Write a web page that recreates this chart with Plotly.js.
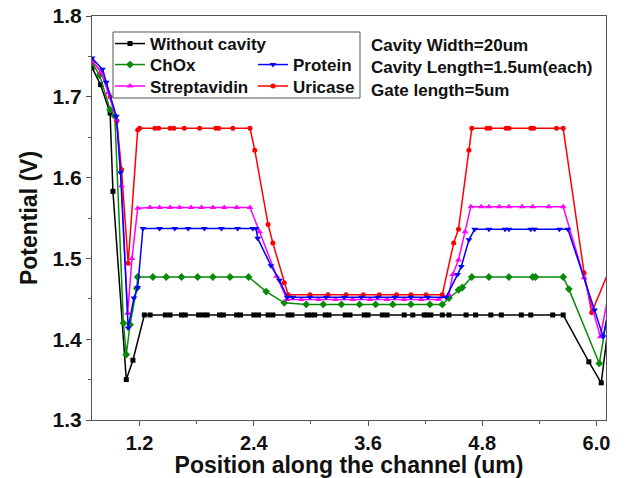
<!DOCTYPE html>
<html><head><meta charset="utf-8">
<script src="https://cdn.plot.ly/plotly-3.0.1.min.js"></script>
<style>html,body{margin:0;padding:0;background:#fff}#chart{width:640px;height:478px}</style>
</head><body><div id="chart"></div>
<script>
// ---- data ----
var seriesNames = ['Without cavity', 'ChOx', 'Protein', 'Streptavidin', 'Uricase'];

var noCavityX = [0.70, 0.79, 0.89, 0.92, 1.06, 1.13, 1.25, 1.31, 1.47, 1.52, 1.64, 1.68, 1.82, 1.87, 1.91, 2.04, 2.08, 2.22, 2.26, 2.40, 2.45, 2.55, 2.60, 2.76, 2.80, 2.96, 3.00, 3.04, 3.15, 3.19, 3.36, 3.41, 3.56, 3.60, 3.75, 3.80, 3.98, 4.07, 4.19, 4.22, 4.26, 4.38, 4.45, 4.63, 4.73, 4.89, 5.00, 5.21, 5.31, 5.54, 5.65, 5.92, 6.05, 6.15];
var noCavityY = [1.736, 1.715, 1.680, 1.583, 1.350, 1.374, 1.430, 1.430, 1.430, 1.430, 1.430, 1.430, 1.430, 1.430, 1.430, 1.430, 1.430, 1.430, 1.430, 1.430, 1.430, 1.430, 1.430, 1.430, 1.430, 1.430, 1.430, 1.430, 1.430, 1.430, 1.430, 1.430, 1.430, 1.430, 1.430, 1.430, 1.430, 1.430, 1.430, 1.430, 1.430, 1.430, 1.430, 1.430, 1.430, 1.430, 1.430, 1.430, 1.430, 1.430, 1.430, 1.372, 1.346, 1.440];

var choxX = [0.70, 0.78, 0.89, 0.94, 1.03, 1.06, 1.10, 1.17, 1.18, 1.34, 1.48, 1.64, 1.81, 1.97, 2.15, 2.345, 2.53, 2.72, 2.95, 3.13, 3.32, 3.51, 3.68, 3.86, 4.05, 4.25, 4.38, 4.45, 4.55, 4.59, 4.69, 4.87, 5.08, 5.33, 5.36, 5.65, 5.71, 6.03, 6.15];
var choxY = [1.742, 1.727, 1.684, 1.676, 1.420, 1.381, 1.418, 1.463, 1.477, 1.477, 1.477, 1.477, 1.477, 1.477, 1.477, 1.477, 1.459, 1.445, 1.443, 1.443, 1.443, 1.443, 1.443, 1.443, 1.443, 1.443, 1.443, 1.451, 1.461, 1.464, 1.477, 1.477, 1.477, 1.477, 1.477, 1.477, 1.462, 1.370, 1.455];

var proteinX = [0.70, 0.81, 0.85, 0.955, 1.00, 1.08, 1.14, 1.18, 1.235, 1.41, 1.57, 1.71, 1.88, 2.06, 2.23, 2.39, 2.425, 2.44, 2.58, 2.67, 2.75, 2.81, 2.99, 3.16, 3.35, 3.53, 3.70, 3.88, 4.05, 4.23, 4.42, 4.54, 4.58, 4.66, 4.72, 4.87, 5.04, 5.08, 5.31, 5.35, 5.61, 5.70, 5.98, 6.07, 6.15];
var proteinY = [1.748, 1.734, 1.718, 1.676, 1.606, 1.414, 1.451, 1.464, 1.537, 1.537, 1.537, 1.537, 1.537, 1.537, 1.537, 1.537, 1.537, 1.525, 1.491, 1.473, 1.452, 1.452, 1.452, 1.452, 1.452, 1.452, 1.452, 1.452, 1.452, 1.452, 1.452, 1.480, 1.490, 1.523, 1.536, 1.536, 1.536, 1.536, 1.536, 1.536, 1.536, 1.536, 1.436, 1.403, 1.450];

var streptX = [0.70, 0.80, 0.87, 0.96, 1.01, 1.075, 1.12, 1.18, 1.31, 1.41, 1.52, 1.62, 1.74, 1.85, 1.97, 2.09, 2.22, 2.36, 2.46, 2.64, 2.75, 2.90, 3.08, 3.26, 3.44, 3.62, 3.80, 3.98, 4.16, 4.34, 4.45, 4.49, 4.55, 4.62, 4.68, 4.79, 4.87, 4.98, 5.08, 5.22, 5.33, 5.50, 5.65, 5.87, 6.04, 6.15];
var streptY = [1.745, 1.730, 1.705, 1.672, 1.590, 1.432, 1.500, 1.562, 1.563, 1.563, 1.563, 1.563, 1.563, 1.563, 1.563, 1.563, 1.563, 1.563, 1.533, 1.478, 1.449, 1.449, 1.449, 1.449, 1.449, 1.449, 1.449, 1.449, 1.449, 1.449, 1.455, 1.480, 1.498, 1.533, 1.564, 1.564, 1.564, 1.564, 1.564, 1.564, 1.564, 1.564, 1.564, 1.476, 1.403, 1.470];

var uricaseX = [0.70, 0.80, 0.89, 0.96, 1.01, 1.08, 1.18, 1.20, 1.36, 1.40, 1.52, 1.56, 1.67, 1.83, 2.00, 2.03, 2.18, 2.36, 2.41, 2.55, 2.60, 2.72, 2.76, 2.99, 3.18, 3.37, 3.55, 3.72, 3.90, 4.05, 4.21, 4.38, 4.50, 4.55, 4.66, 4.69, 4.85, 4.88, 5.05, 5.08, 5.31, 5.34, 5.58, 5.65, 5.87, 5.95, 6.15];
var uricaseY = [1.745, 1.730, 1.700, 1.670, 1.610, 1.494, 1.659, 1.661, 1.661, 1.661, 1.661, 1.661, 1.661, 1.661, 1.661, 1.661, 1.661, 1.661, 1.634, 1.542, 1.519, 1.470, 1.455, 1.455, 1.455, 1.455, 1.455, 1.455, 1.455, 1.455, 1.455, 1.455, 1.519, 1.536, 1.634, 1.661, 1.661, 1.661, 1.661, 1.661, 1.661, 1.661, 1.661, 1.661, 1.482, 1.433, 1.490];

var infoLines = ['Cavity Width=20um', 'Cavity Length=1.5um(each)', 'Gate length=5um'];
var xTitle = 'Position along the channel (um)';
var yTitle = 'Potential (V)';

// ---- styling ----
var FONT = 'Liberation Sans, Arial, sans-serif';
var AX = '#555555';

function tr(x, y, name, color, symbol, size, legendId) {
  return {
    x: x, y: y, name: name, type: 'scatter', mode: 'lines+markers',
    line: {color: color, width: 1.5},
    marker: {color: color, symbol: symbol, size: size},
    legend: legendId, cliponaxis: true
  };
}

var data = [
  tr(noCavityX, noCavityY, seriesNames[0], '#000000', 'square', 5, 'legend'),
  tr(choxX, choxY, seriesNames[1], '#0a8a0a', 'diamond', 6, 'legend2'),
  tr(uricaseX, uricaseY, seriesNames[4], '#ff0000', 'circle', 5, 'legend5'),
  tr(streptX, streptY, seriesNames[3], '#ff00ff', 'triangle-up', 6, 'legend4'),
  tr(proteinX, proteinY, seriesNames[2], '#0000ff', 'triangle-down', 6, 'legend3')
];

function leg(x, y) {
  return {x: x, y: y, xref: 'paper', yref: 'paper', xanchor: 'left', yanchor: 'middle',
    bgcolor: 'rgba(0,0,0,0)', borderwidth: 0, itemwidth: 30,
    font: {family: FONT, size: 17, color: '#111', weight: 'bold'}};
}

var W = 514, H = 404;
function px(p) { return (p - 92) / W; }
function py(p) { return (420 - p) / H; }

var annotations = infoLines.map(function (t, i) {
  return {text: t, xref: 'paper', yref: 'paper', x: px(369), y: py([46, 67.5, 90][i]),
    xanchor: 'left', yanchor: 'middle', showarrow: false,
    font: {family: FONT, size: 17, color: '#111', weight: 'bold'}};
});

var layout = {
  width: 640, height: 478,
  margin: {l: 92, r: 34, t: 16, b: 58, pad: 0},
  paper_bgcolor: '#fff', plot_bgcolor: '#fff',
  showlegend: true,
  legend: leg(px(110), py(44)),
  legend2: leg(px(110), py(65)),
  legend3: leg(px(253), py(65)),
  legend4: leg(px(110), py(86.5)),
  legend5: leg(px(253), py(86.5)),
  xaxis: {
    range: [0.7, 6.1], tick0: 0, dtick: 1.2, tickformat: '.1f',
    ticks: 'outside', ticklen: 5, tickwidth: 1, tickcolor: AX,
    showline: true, linecolor: AX, linewidth: 1, mirror: true,
    showgrid: false, zeroline: false,
    minor: {tick0: 0, dtick: 0.6, ticks: 'outside', ticklen: 3, tickcolor: AX, showgrid: false},
    tickfont: {family: FONT, size: 20, color: '#111', weight: 'bold'},
    title: {text: xTitle, standoff: 2, font: {family: FONT, size: 23, color: '#111', weight: 'bold'}}
  },
  yaxis: {
    range: [1.3, 1.8], tick0: 0, dtick: 0.1, tickformat: '.1f',
    ticks: 'outside', ticklen: 5, tickwidth: 1, tickcolor: AX,
    showline: true, linecolor: AX, linewidth: 1, mirror: true,
    showgrid: false, zeroline: false,
    minor: {tick0: 0, dtick: 0.05, ticks: 'outside', ticklen: 3, tickcolor: AX, showgrid: false},
    tickfont: {family: FONT, size: 21, color: '#111', weight: 'bold'},
    title: {text: yTitle, standoff: 8, font: {family: FONT, size: 23, color: '#111', weight: 'bold'}}
  },
  shapes: [{type: 'rect', xref: 'paper', yref: 'paper',
    x0: px(113), x1: px(360), y0: py(98), y1: py(32),
    line: {color: AX, width: 1}, fillcolor: 'rgba(0,0,0,0)', layer: 'above'}],
  annotations: annotations
};

Plotly.newPlot('chart', data, layout, {displayModeBar: false, staticPlot: true});
</script></body></html>
